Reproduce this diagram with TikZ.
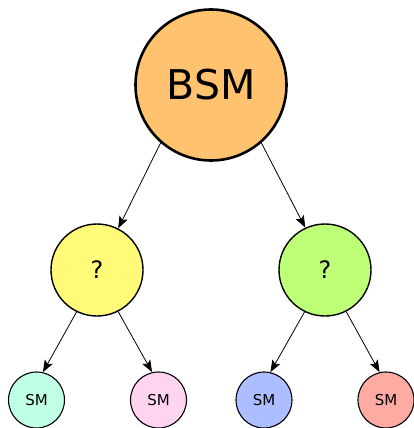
\documentclass[tikz,border=0pt]{standalone}
\usepackage{fontspec}
\setmainfont{DejaVu Sans}
\usetikzlibrary{arrows.meta}

\definecolor{bsmfill}{RGB}{255,195,112}
\definecolor{qyellow}{RGB}{255,250,120}
\definecolor{qgreen}{RGB}{190,255,120}
\definecolor{smmint}{RGB}{190,255,230}
\definecolor{smpink}{RGB}{255,212,240}
\definecolor{smblue}{RGB}{172,190,255}
\definecolor{smred}{RGB}{255,170,162}

\begin{document}
\begin{tikzpicture}[x=1pt,y=-1pt,
  bsm/.style={circle,draw,line width=2.6pt,fill=bsmfill,minimum size=151pt,inner sep=0pt,
    font=\fontsize{41}{41}\selectfont},
  quest/.style={circle,draw,line width=1.4pt,minimum size=92pt,inner sep=0pt,
    font=\fontsize{24}{24}\selectfont},
  smleaf/.style={circle,draw,line width=1.1pt,minimum size=56pt,inner sep=0pt,
    font=\fontsize{15}{15}\selectfont},
  link/.style={-{Stealth[length=12pt,width=9pt,inset=2.5pt]},line width=0.8pt}]
\useasboundingbox (0,0) rectangle (413,428);

\node[bsm] (top) at (211,85) {BSM};
\node[quest,fill=qyellow] (qleft) at (97,270) {?};
\node[quest,fill=qgreen] (qright) at (325,270) {?};

\node[smleaf,fill=smmint] (sm1) at (36.5,400) {SM};
\node[smleaf,fill=smpink] (sm2) at (158.5,400) {SM};
\node[smleaf,fill=smblue] (sm3) at (264,400) {SM};
\node[smleaf,fill=smred] (sm4) at (386,400) {SM};

\draw[link] (top.229) -- (qleft.63);
\draw[link] (top.311) -- (qright.115);
\draw[link] (qleft.244) -- (sm1.77);
\draw[link] (qleft.297) -- (sm2.103);
\draw[link] (qright.244) -- (sm3.77);
\draw[link] (qright.297) -- (sm4.103);

\end{tikzpicture}
\end{document}
